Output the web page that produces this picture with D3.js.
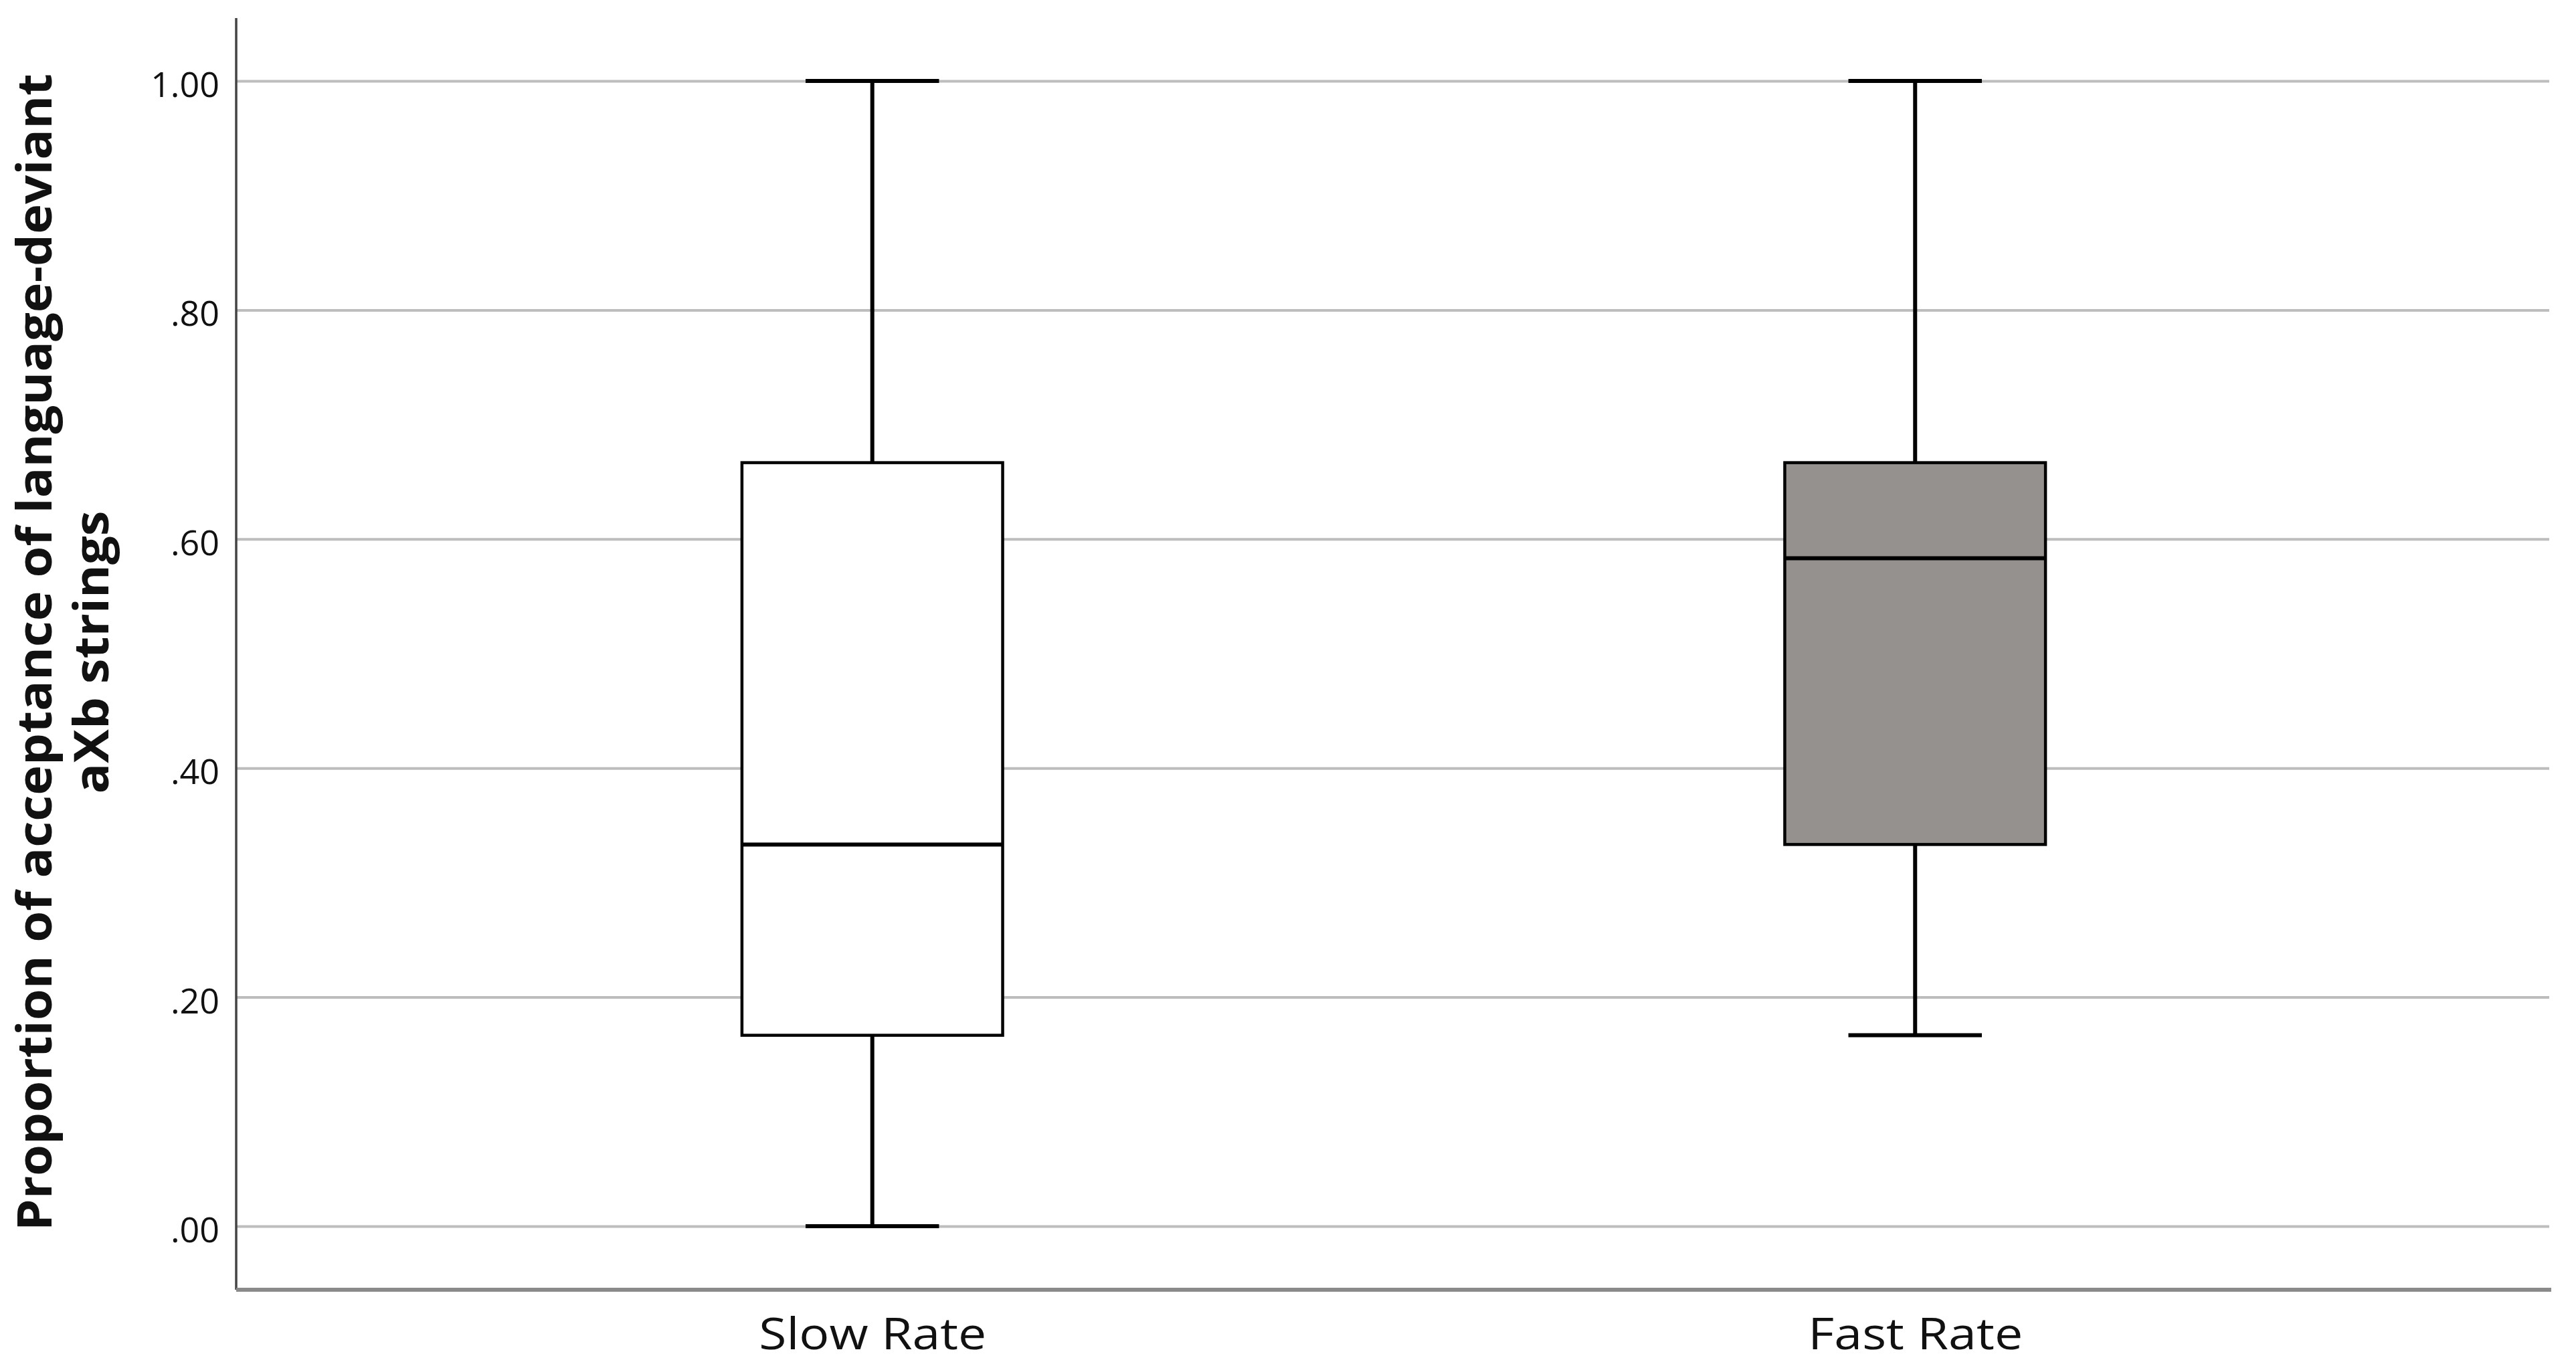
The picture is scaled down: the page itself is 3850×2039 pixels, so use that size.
<!DOCTYPE html>
<html>
<head>
<meta charset="utf-8">
<script src="https://cdn.jsdelivr.net/npm/d3@7"></script>
<style>
  html, body { margin: 0; padding: 0; background: #fff; }
  svg { display: block; }
</style>
</head>
<body>
<svg id="chart" width="3850" height="2039"></svg>
<script>
// ---- data ----
const categories = ["Slow Rate", "Fast Rate"];
const minVals    = [0.0000, 0.1667];
const q1Vals     = [0.1667, 0.3333];
const medianVals = [0.3333, 0.5833];
const q3Vals     = [0.6667, 0.6667];
const maxVals    = [1.0000, 1.0000];
const boxFills   = ["#ffffff", "#95918f"];
const yTicks     = [0, 0.2, 0.4, 0.6, 0.8, 1.0];
const yTickLabels = [".00", ".20", ".40", ".60", ".80", "1.00"];
const yTitleLines = ["Proportion of acceptance of language-deviant", "aXb strings"];

// ---- layout ----
const W = 3850, H = 2039;
const axisX = 353, axisRight = 3813, axisTop = 27, axisBottom = 1928;

const svg = d3.select("#chart");
svg.append("rect").attr("width", W).attr("height", H).attr("fill", "#fff");

const y = d3.scaleLinear().domain([0, 1]).range([1833, 121]);
const x = d3.scalePoint().domain(categories).range([axisX, axisRight]).padding(0.61);
const step = x.step();
const boxW = step * 0.25;
const capW = step * 0.128;

// gridlines
const grid = svg.append("g").attr("transform", `translate(${axisX},0)`)
  .call(d3.axisLeft(y).tickValues(yTicks).tickSize(-(3810 - axisX)).tickFormat(""));
grid.select(".domain").remove();
grid.selectAll(".tick line").attr("stroke", "#bdbdbd").attr("stroke-width", 4);

const rows = categories.map((c, i) => ({
  c, min: minVals[i], q1: q1Vals[i], med: medianVals[i], q3: q3Vals[i], max: maxVals[i], fill: boxFills[i]
}));

const g = svg.append("g");
// whiskers
g.selectAll(".wUp").data(rows).join("line")
  .attr("x1", d => x(d.c)).attr("x2", d => x(d.c))
  .attr("y1", d => y(d.max)).attr("y2", d => y(d.q3))
  .attr("stroke", "#000").attr("stroke-width", 6);
g.selectAll(".wDn").data(rows).join("line")
  .attr("x1", d => x(d.c)).attr("x2", d => x(d.c))
  .attr("y1", d => y(d.q1)).attr("y2", d => y(d.min))
  .attr("stroke", "#000").attr("stroke-width", 6);
// caps
g.selectAll(".capUp").data(rows).join("line")
  .attr("x1", d => x(d.c) - capW / 2).attr("x2", d => x(d.c) + capW / 2)
  .attr("y1", d => y(d.max)).attr("y2", d => y(d.max))
  .attr("stroke", "#000").attr("stroke-width", 6);
g.selectAll(".capDn").data(rows).join("line")
  .attr("x1", d => x(d.c) - capW / 2).attr("x2", d => x(d.c) + capW / 2)
  .attr("y1", d => y(d.min)).attr("y2", d => y(d.min))
  .attr("stroke", "#000").attr("stroke-width", 6);
// boxes
g.selectAll(".box").data(rows).join("rect")
  .attr("x", d => x(d.c) - boxW / 2).attr("width", boxW)
  .attr("y", d => y(d.q3)).attr("height", d => y(d.q1) - y(d.q3))
  .attr("fill", d => d.fill).attr("stroke", "#000").attr("stroke-width", 4.5);
// medians
g.selectAll(".med").data(rows).join("line")
  .attr("x1", d => x(d.c) - boxW / 2).attr("x2", d => x(d.c) + boxW / 2)
  .attr("y1", d => y(d.med)).attr("y2", d => y(d.med))
  .attr("stroke", "#000").attr("stroke-width", 6);

// y axis line + tick labels
svg.append("line").attr("x1", axisX).attr("x2", axisX).attr("y1", axisTop).attr("y2", axisBottom)
  .attr("stroke", "#444").attr("stroke-width", 3.5);
const yAx = svg.append("g").attr("transform", `translate(${axisX},0)`)
  .call(d3.axisLeft(y).tickValues(yTicks).tickSize(0).tickPadding(25)
        .tickFormat((d, i) => yTickLabels[i]));
yAx.select(".domain").remove();
yAx.selectAll(".tick text")
  .attr("font-family", "'Open Sans', sans-serif").attr("font-size", 52)
  .attr("fill", "#111").attr("dy", "0.45em");

// x axis line + labels
svg.append("line").attr("x1", axisX).attr("x2", axisRight).attr("y1", axisBottom).attr("y2", axisBottom)
  .attr("stroke", "#8a8a8a").attr("stroke-width", 6);
const xAx = svg.append("g").attr("transform", `translate(0,${axisBottom})`)
  .call(d3.axisBottom(x).tickSize(0).tickPadding(0));
xAx.select(".domain").remove();
const xLabelLens = [340, 321];
xAx.selectAll(".tick text")
  .attr("font-family", "'Open Sans', sans-serif").attr("font-size", 66)
  .attr("fill", "#111").attr("y", 89).attr("dy", 0)
  .attr("textLength", (d, i) => xLabelLens[i]).attr("lengthAdjust", "spacingAndGlyphs");

// y title
const titleLens = [1730, 423];
const titleBase = [77, 162];
yTitleLines.forEach((t, i) => {
  svg.append("text")
    .attr("transform", `translate(${titleBase[i]},975) rotate(-90)`)
    .attr("text-anchor", "middle")
    .attr("font-family", "'Open Sans', sans-serif").attr("font-weight", "bold")
    .attr("font-size", 72).attr("fill", "#111")
    .attr("textLength", titleLens[i]).attr("lengthAdjust", "spacingAndGlyphs")
    .text(t);
});
</script>
</body>
</html>
